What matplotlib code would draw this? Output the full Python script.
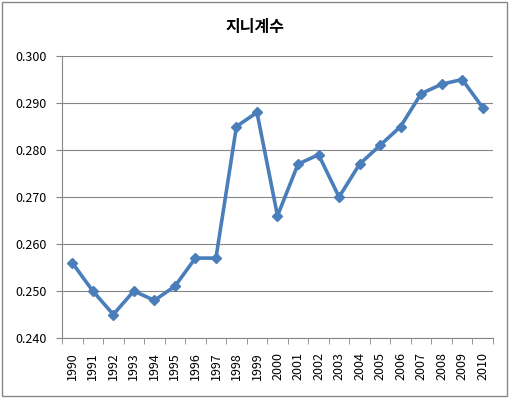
import numpy as np
import matplotlib.pyplot as plt
from matplotlib.patches import Rectangle

years = [str(y) for y in range(1990, 2011)]
gini = [0.256, 0.250, 0.245, 0.250, 0.248, 0.251, 0.257, 0.257, 0.285, 0.288,
        0.266, 0.277, 0.279, 0.270, 0.277, 0.281, 0.285, 0.292, 0.294, 0.295, 0.289]
yticks = [0.240, 0.250, 0.260, 0.270, 0.280, 0.290, 0.300]

plt.rcParams['font.family'] = ['Noto Sans CJK KR', 'DejaVu Sans']

fig = plt.figure(figsize=(5.1, 3.98), dpi=100)
ax = fig.add_axes([62 / 510, 1 - 338 / 398, (493 - 62) / 510, (338 - 56) / 398])

x = np.arange(len(years))
ax.plot(x, gini, color='#4A7EBB', lw=2.6, marker='D', ms=5.5, zorder=3)

ax.set_xlim(-0.5, len(years) - 0.5)
ax.set_ylim(0.240, 0.300)
ax.set_yticks(yticks)
ax.set_yticklabels(['%.3f' % v for v in yticks], fontsize=9)
ax.set_xticks(x)
ax.set_xticklabels(years, rotation=90, fontsize=9)
ax.set_xticks(np.arange(-0.5, len(years), 1), minor=True)
ax.tick_params(axis='x', which='major', length=0, pad=10)
ax.tick_params(axis='x', which='minor', length=4, color='#868686', direction='out')
ax.tick_params(axis='y', length=4, color='#868686', pad=7)

ax.grid(axis='y', color='#868686', lw=0.8)
ax.set_axisbelow(True)
for s in ['top', 'right']:
    ax.spines[s].set_visible(False)
for s in ['left', 'bottom']:
    ax.spines[s].set_color('#868686')
    ax.spines[s].set_linewidth(0.8)

fig.text(0.5, 1 - 27 / 398, '지니계수', ha='center', va='center', fontsize=11.5, fontweight='bold')
fig.patches.append(Rectangle((0.003, 0.005), 0.992, 0.99, transform=fig.transFigure,
                             fill=False, edgecolor='#868686', lw=1))

fig.savefig('out.png', dpi=100)
